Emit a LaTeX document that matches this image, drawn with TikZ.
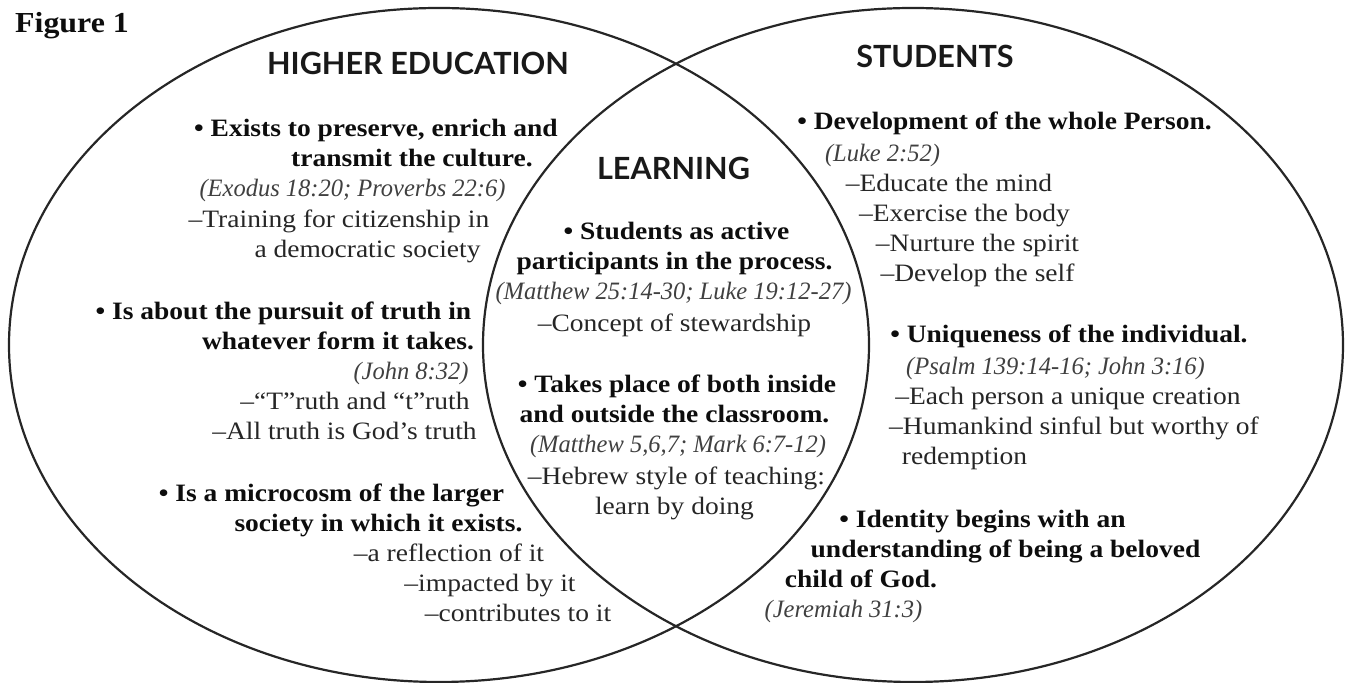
\documentclass[tikz,border=0pt]{standalone}
\usepackage{fontspec}
\setmainfont{Liberation Serif}[FakeStretch=1.1, ItalicFeatures={FakeStretch=0.98}]
\newfontfamily\headfont{Lato}
\usepackage{tikz}

\tikzset{
  venn/.style={line width=1.1pt, black!85},
  txt/.style={anchor=base, inner sep=0pt, text=black!85, font=\fontsize{12.5}{15}\selectfont},
  ref/.style={txt, text=black!75, font=\fontsize{12.5}{15}\selectfont\itshape},
  pnt/.style={txt, text=black!95, font=\fontsize{12.5}{15}\selectfont\bfseries},
  head/.style={anchor=base, inner sep=0pt, text=black!90, font=\fontsize{15.3}{17}\headfont\bfseries},
}

\begin{document}
\begin{tikzpicture}[x=0.5pt,y=-0.5pt]
	  \useasboundingbox (0,0) rectangle (1346,683);

	  %----------------------------------------------------------------
	  \draw [venn] (439,345) ellipse [x radius=430, y radius=337];
	  \draw [venn] (913,345) ellipse [x radius=430, y radius=337];

	  \node (fig) [pnt, font=\fontsize{14.5}{16}\selectfont\bfseries] at (72,33) {Figure 1};

	  %----------------------------------------------------------------
	  \node (hehead) [head] at (418,75) {HIGHER EDUCATION};

	  \node (he1) [pnt] at (376,137) {\textbullet{} Exists to preserve, enrich and};
	  \node (he2) [pnt] at (412,167) {transmit the culture.};
	  \node (he3) [ref] at (352.5,197) {(Exodus 18:20; Proverbs 22:6)};
	  \node (he4) [txt] at (339,228) {--Training for citizenship in};
	  \node (he5) [txt] at (367.5,258) {a democratic society};

	  \node (he6) [pnt] at (283.5,320) {\textbullet{} Is about the pursuit of truth in};
	  \node (he7) [pnt] at (338,350) {whatever form it takes.};
	  \node (he8) [ref] at (411,380) {(John 8:32)};
	  \node (he9) [txt] at (355,410) {--``T''ruth and ``t''ruth};
	  \node (he10) [txt] at (344.5,440) {--All truth is God's truth};

	  \node (he11) [pnt] at (331.5,502) {\textbullet{} Is a microcosm of the larger};
	  \node (he12) [pnt] at (378.5,532) {society in which it exists.};
	  \node (he13) [txt] at (449,562) {--a reflection of it};
	  \node (he14) [txt] at (490,592) {--impacted by it};
	  \node (he15) [txt] at (518,622) {--contributes to it};

	  %----------------------------------------------------------------
	  \node (lnhead) [head] at (673.5,180) {LEARNING};

	  \node (ln1) [pnt] at (676.5,240) {\textbullet{} Students as active};
	  \node (ln2) [pnt] at (674.5,270) {participants in the process.};
	  \node (ln3) [ref] at (673.5,300) {(Matthew 25:14-30; Luke 19:12-27)};
	  \node (ln4) [txt] at (674.5,332) {--Concept of stewardship};

	  \node (ln5) [pnt] at (677,393) {\textbullet{} Takes place of both inside};
	  \node (ln6) [pnt] at (674.5,423) {and outside the classroom.};
	  \node (ln7) [ref] at (678,453) {(Matthew 5,6,7; Mark 6:7-12)};
	  \node (ln8) [txt] at (676.5,485) {--Hebrew style of teaching:};
	  \node (ln9) [txt] at (674.5,515) {learn by doing};

	  %----------------------------------------------------------------
	  \node (sthead) [head] at (935,68) {STUDENTS};

	  \node (st1) [pnt] at (1004.5,130) {\textbullet{} Development of the whole Person.};
	  \node (st2) [ref] at (882.5,162) {(Luke 2:52)};
	  \node (st3) [txt] at (949,192) {--Educate the mind};
	  \node (st4) [txt] at (964.5,222) {--Exercise the body};
	  \node (st5) [txt] at (977.5,252) {--Nurture the spirit};
	  \node (st6) [txt] at (977.5,282) {--Develop the self};

	  \node (st7) [pnt] at (1069,343) {\textbullet{} Uniqueness of the individual.};
	  \node (st8) [ref] at (1055.5,375) {(Psalm 139:14-16; John 3:16)};
	  \node (st9) [txt] at (1068,405) {--Each person a unique creation};
	  \node (st10) [txt] at (1074,435) {--Humankind sinful but worthy of};
	  \node (st11) [txt] at (964.5,465) {redemption};

	  \node (st12) [pnt] at (982.5,528) {\textbullet{} Identity begins with an};
	  \node (st13) [pnt] at (1005.5,558) {understanding of being a beloved};
	  \node (st14) [pnt] at (861,588) {child of God.};
	  \node (st15) [ref] at (843.5,618) {(Jeremiah 31:3)};

\end{tikzpicture}
\end{document}
